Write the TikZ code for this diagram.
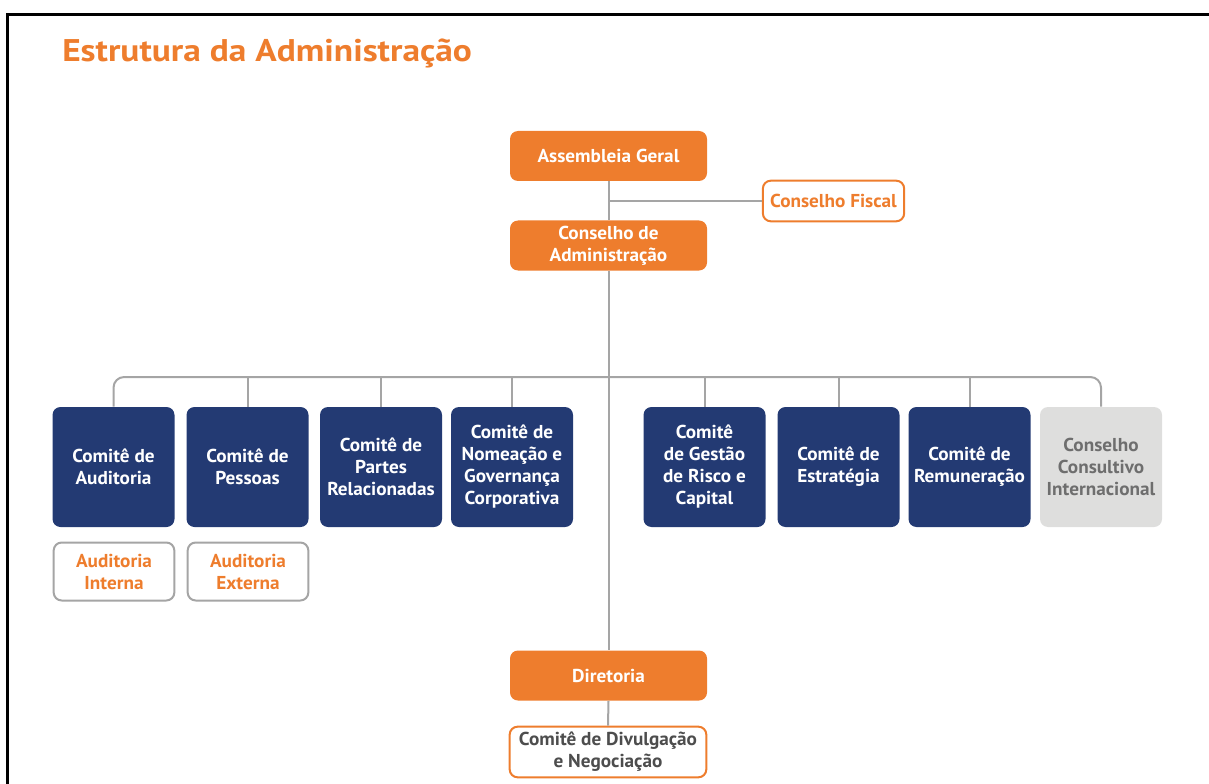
\documentclass[tikz,border=0pt]{standalone}
\usepackage{fontspec}
\setmainfont{PT Sans}
\newfontfamily\ttlfont[FakeStretch=1.13]{PT Sans}
\newfontfamily\boxfont[FakeStretch=1.03]{PT Sans}
\definecolor{orng}{RGB}{238,125,45}
\definecolor{navy}{RGB}{35,58,115}
\definecolor{lgray}{RGB}{222,222,221}
\definecolor{lnc}{RGB}{165,165,165}
\definecolor{txgray}{RGB}{110,110,110}
\definecolor{dkgray}{RGB}{77,77,77}
\begin{document}
\begin{tikzpicture}[x=0.75pt,y=-0.75pt,
  box/.style={rounded corners=6pt, align=center, inner sep=0pt, anchor=center,
    font=\boxfont\bfseries\fontsize{14}{16.5}\selectfont},
  orbox/.style={box, fill=orng, text=white, minimum width=147.75pt, minimum height=37.5pt},
  fiscal/.style={box, fill=white, draw=orng, line width=1.5pt, text=orng, minimum width=106pt, minimum height=30.5pt},
  bluebox/.style={box, fill=navy, text=white, minimum width=91.5pt, minimum height=90pt},
  graybox/.style={box, fill=lgray, text=txgray, minimum width=91.5pt, minimum height=90pt},
  audbox/.style={box, fill=white, draw=lnc, line width=1.5pt, text=orng, minimum width=90.5pt, minimum height=43.5pt},
  divbox/.style={box, fill=white, draw=orng, line width=1.5pt, text=dkgray, minimum width=147.5pt, minimum height=38pt},
  conn/.style={draw=lnc, line width=1.5pt},
  ttl/.style={anchor=base west, inner sep=0pt, text=orng, font=\ttlfont\bfseries\fontsize{23.5}{28}\selectfont}
]
\useasboundingbox (0,0) rectangle (1209,784);
\draw[line width=2.25pt] (7,784) -- (7,15) -- (1209,15);

\node[ttl] (title) at (62,62) {Estrutura da Administração};

\node[orbox] (ag) at (608.5,156) {Assembleia Geral};
\node[fiscal] (cf) at (833.5,201) {Conselho Fiscal};
\node[orbox] (ca) at (608.5,245.5) {Conselho de\\Administração};

\node[bluebox] (aud) at (113.5,467) {Comitê de\\Auditoria};
\node[bluebox] (pes) at (247.5,467) {Comitê de\\Pessoas};
\node[bluebox] (par) at (381,467) {Comitê de\\Partes\\Relacionadas};
\node[bluebox] (nom) at (512,467) {Comitê de\\Nomeação e\\Governança\\Corporativa};
\node[bluebox] (ris) at (704.5,467) {Comitê\\de Gestão\\de Risco e\\Capital};
\node[bluebox] (est) at (838.5,467) {Comitê de\\Estratégia};
\node[bluebox] (rem) at (969.5,467) {Comitê de\\Remuneração};
\node[graybox] (cci) at (1101,467) {Conselho\\Consultivo\\Internacional};

\node[audbox] (ai) at (114,571.5) {Auditoria\\Interna};
\node[audbox] (ae) at (248,571.5) {Auditoria\\Externa};

\node[orbox] (dir) at (608.5,675.5) {Diretoria};
\node[divbox] (div) at (608,752) {Comitê de Divulgação\\e Negociação};

\coordinate (bus) at (607,377);

\draw[conn] (ag.south) -- (ca.north);
\draw[conn] (cf.west) -- (cf.west -| ag.south);
\draw[conn] (ca.south) -- (dir.north);
\draw[conn] (dir.south) -- (div.north);
\draw[conn, rounded corners=8pt] (aud.north) |- (bus) -| (cci.north);
\foreach \n in {pes,par,nom,ris,est,rem}
  \draw[conn] (\n.north) -- (\n.north |- bus);
\end{tikzpicture}
\end{document}
